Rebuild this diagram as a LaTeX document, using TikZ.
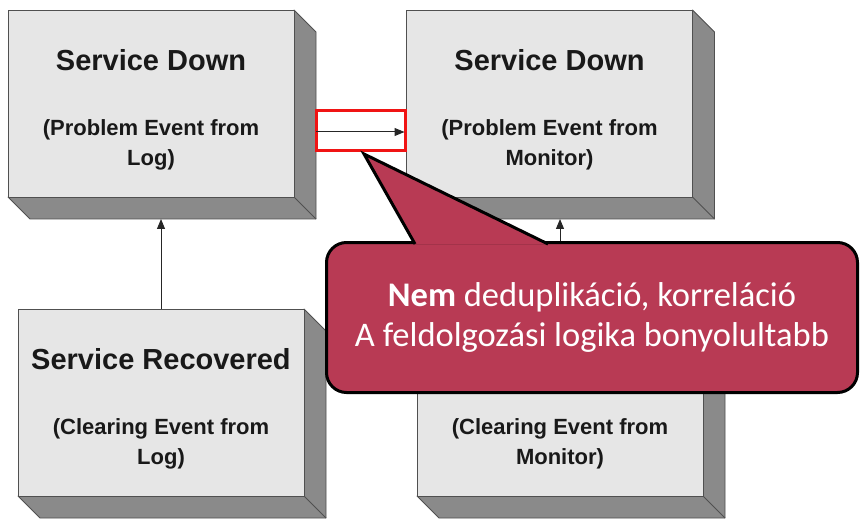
\documentclass[tikz,border=0pt]{standalone}
\usepackage{fontspec}
\setmainfont{Liberation Sans}
\newfontfamily\calibri{Carlito}
\usepackage{tikz}
\usetikzlibrary{arrows.meta, positioning, calc, backgrounds}

\definecolor{facegray}{RGB}{230,230,230}
\definecolor{sidegray}{RGB}{138,138,138}
\definecolor{edgegray}{RGB}{80,80,80}
\definecolor{notered}{RGB}{184,58,84}
\definecolor{markred}{RGB}{240,20,20}

\newcommand{\titlesize}{\fontsize{29}{35}\selectfont}
\newcommand{\subsize}{\fontsize{22}{30}\selectfont}

\tikzset{
  eventbox/.style={draw=edgegray, fill=facegray, line width=0.8pt, minimum width=286pt, minimum height=187pt,
    inner sep=0pt, outer sep=0pt, align=center, text=black!90, font=\bfseries\subsize},
  boxside/.style={fill=sidegray, draw=edgegray, line width=0.8pt, line join=round},
  link/.style={draw=black!85, line width=1pt, -{Triangle[length=10pt,width=8pt]}},
  markbox/.style={draw=markred, line width=3pt, minimum width=89pt, minimum height=40pt, inner sep=0pt, outer sep=0pt},
  notebox/.style={fill=notered, draw=black, line width=3pt, rounded corners=20pt, minimum width=531pt, minimum height=150pt,
    outer sep=0pt, align=center, text=white, font=\calibri\fontsize{34.5}{40}\selectfont},
  notepointer/.style={fill=notered, draw=black, line width=3pt, line join=miter}
}

\begin{document}
\begin{tikzpicture}[x=1pt, y=-1pt]
  \useasboundingbox (0,0) rectangle (861,521);

  \node (sdlog) [eventbox] at (151,103.5) {\titlesize\rule{0pt}{33pt}Service Down\\[35pt](Problem Event from\\Log)};
  \node (sdmon) [eventbox, right=112.5pt of sdlog] {\titlesize\rule{0pt}{33pt}Service Down\\[35pt](Problem Event from\\Monitor)};
  \node (srlog) [eventbox, below right=112pt and 10pt of sdlog.south west, anchor=north west] {\titlesize\rule{0pt}{33pt}Service Recovered\\[35pt](Clearing Event from\\Log)};
  \node (srmon) [eventbox, right=113pt of srlog] {\titlesize\rule{0pt}{33pt}\\[35pt](Clearing Event from\\Monitor)};

  % 3d sides of the boxes
  \begin{scope}[on background layer]
    \foreach \n in {sdlog, sdmon, srlog, srmon} {
      \filldraw[boxside] (\n.north east) -- ++(22,22) coordinate (\n-ne)
        -- ($(\n.south east)+(22,22)$) coordinate (\n-se)
        -- ($(\n.south west)+(22,22)$) coordinate (\n-sw)
        -- (\n.south west) -- (\n.south east) -- cycle;
      \draw[boxside] (\n.south east) -- (\n-se);
    }
  \end{scope}

  \node (dupmark) [markbox] at (361,130.5) {};
  \coordinate (dupline) at (361,132);

  \draw[link] (srlog.north) -- (srlog.north |- sdlog-se);
  \draw[link] (srmon.north) -- (srmon.north |- sdmon-se);
  \draw[link, shorten >=2pt] (sdlog-ne |- dupline) -- (sdmon.west |- dupline);

  % callout
  \node (note) [notebox] at (592,317.5) {{\bfseries Nem} deduplikáció, korreláció\\A feldolgozási logika bonyolultabb};
  \coordinate (notetip) at (364,154);
  \filldraw[notepointer] ($(note.north west)+(88.5,1.5)$) -- (notetip) -- ($(note.north west)+(221.5,1.5)$);
\end{tikzpicture}
\end{document}
